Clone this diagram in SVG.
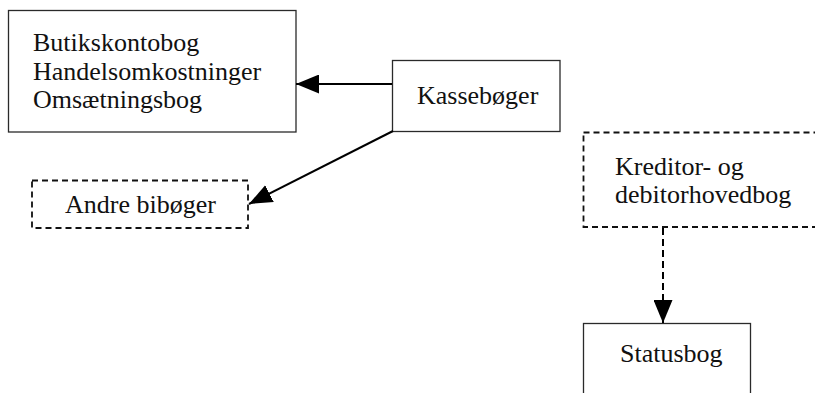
<svg xmlns="http://www.w3.org/2000/svg" width="815" height="393" viewBox="0 0 815 393">
  <style>
    .box { fill: #ffffff; stroke: #2a2a2a; stroke-width: 1.3; }
    .dashed { stroke-dasharray: 6 4; stroke: #111; stroke-width: 1.8; }
    .label { font-family: "Liberation Serif", "Times New Roman", serif; font-size: 26px; fill: #111; }
    .edge { fill: none; stroke: #000; stroke-width: 2; }
    .edge-dashed { stroke-dasharray: 7 4; }
  </style>
  <defs>
    <marker id="arrowhead" markerWidth="23" markerHeight="19" refX="23" refY="9.5" orient="auto" markerUnits="userSpaceOnUse">
      <path d="M0,0 L23,9.5 L0,19 Z" fill="#000"/>
    </marker>
  </defs>
  <rect width="815" height="393" fill="#ffffff"/>

  <g id="node-butik">
    <rect class="box" x="8.5" y="10.5" width="287.5" height="121.5"/>
    <text class="label" x="33" y="51">Butikskontobog</text>
    <text class="label" x="33" y="80">Handelsomkostninger</text>
    <text class="label" x="33" y="108">Omsætningsbog</text>
  </g>

  <g id="node-kasse">
    <rect class="box" x="392.5" y="60.5" width="167.5" height="71"/>
    <text class="label" x="417" y="104">Kassebøger</text>
  </g>

  <g id="node-andre">
    <rect class="box dashed" x="32" y="180.5" width="216" height="47.5"/>
    <text class="label" x="65" y="213">Andre bibøger</text>
  </g>

  <g id="node-kreditor">
    <rect class="box dashed" x="583.5" y="132.5" width="250" height="94.5"/>
    <text class="label" x="615" y="175">Kreditor- og</text>
    <text class="label" x="615" y="203">debitorhovedbog</text>
  </g>

  <g id="node-status">
    <rect class="box" x="583.5" y="323.5" width="167" height="80"/>
    <text class="label" x="620" y="362">Statusbog</text>
  </g>

  <g id="connectors">
    <line class="edge" x1="392" y1="84" x2="296" y2="84" marker-end="url(#arrowhead)"/>
    <line class="edge" x1="393" y1="131" x2="249" y2="204" marker-end="url(#arrowhead)"/>
    <line class="edge edge-dashed" x1="663" y1="228" x2="663" y2="323" marker-end="url(#arrowhead)"/>
  </g>
</svg>
